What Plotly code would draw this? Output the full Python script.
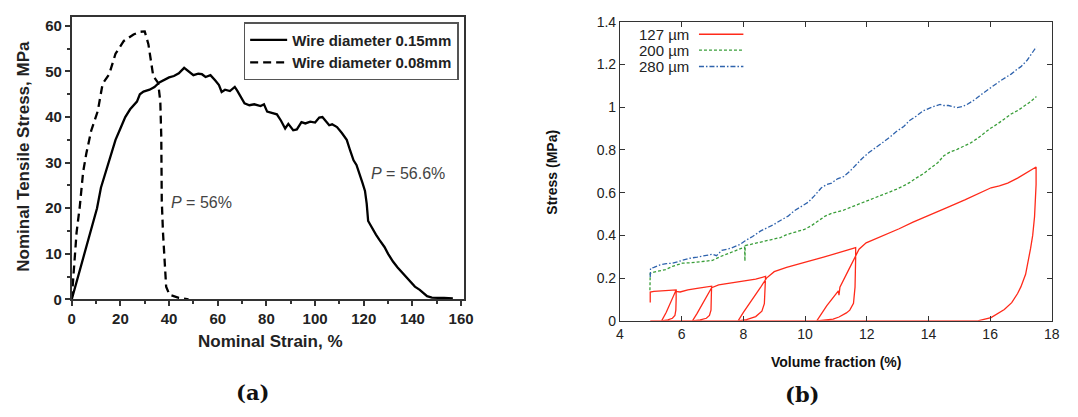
import plotly.graph_objects as go

W, H = 1078, 417
OFF = 8  # page body margin of the browser


def px(x):
    return (x - OFF) / W


def py(y):
    return 1 - (y - OFF) / H


# ---------------- (a) tensile curves ----------------
strain_015 = [0, 2, 5.4, 8, 10.4, 12, 13.4, 15, 16.5, 18, 20, 22, 24, 26.8, 28, 29.5, 32, 34, 36, 38,
              40, 42, 44, 46.2, 48, 50, 52, 53.5, 55, 57, 59, 60.5, 61.6, 63, 65, 67, 68, 69.5, 71, 73,
              75, 77.6, 79, 80.3, 82, 84.3, 86, 87.7, 89, 91, 92.5, 94.4, 96, 98, 100, 101.7, 103, 104.5,
              105.8, 107, 109, 111, 113, 114.5, 115.8, 117, 118.5, 119.5, 120.5, 121.2, 121.8, 122.5,
              123.8, 125, 126.5, 128.5, 130, 132, 133.9, 135.5, 137, 139, 141, 143, 144.5, 146, 148,
              150, 153, 156.6]
stress_015 = [0, 3.8, 10, 15.2, 20, 24.5, 27, 30, 32.5, 35, 37.5, 40, 41.7, 43.4, 45, 45.6, 46, 46.6, 47.6, 48.2,
              48.7, 49, 49.6, 50.8, 50, 49.2, 49.5, 49.4, 48.8, 49.2, 48, 47, 45.5, 46, 45.7, 46.6, 45.8, 44.5, 43, 42.6,
              42.8, 42.4, 42.8, 41.2, 41, 40.6, 39.2, 37.5, 38.5, 37.1, 37.3, 38.9, 38.6, 39, 38.8, 39.9, 40, 39,
              38.2, 38.4, 37.8, 36.5, 35, 32.5, 30.5, 29.5, 27.3, 25.5, 23.8, 21, 17.2, 16.5,
              15.4, 14.2, 13, 11.5, 10, 8.3, 7, 6, 5.3, 3.9, 2.8, 2.1, 1.5, 0.7, 0.4,
              0.4, 0.3, 0.2]

strain_008 = [0, 0.7, 2, 3.3, 4.7, 6, 8, 10.7, 12.7, 15.4, 18, 21.4, 25.4, 28, 30, 31.5, 33.5, 35.5,
              36.4, 36.8, 37, 37.5, 38.2, 38.8, 40.2, 44, 48]
stress_008 = [0, 5.6, 14.7, 20.3, 28, 32, 37, 41.3, 47.3, 49.4, 53.9, 56.7, 58.1, 58.7, 58.8, 56, 49, 47.5,
              43.4, 35.7, 21.7, 14.7, 7.7, 2.8, 1, 0.35, 0]

names_a = ["Wire diameter 0.15mm", "Wire diameter 0.08mm"]
xticks_a = [0, 20, 40, 60, 80, 100, 120, 140, 160]
yticks_a = [0, 10, 20, 30, 40, 50, 60]

# ---------------- (b) stress vs volume fraction ----------------
vf_280 = [4.98, 4.99, 5.1, 5.3, 5.5, 5.7, 5.9, 6.1, 6.25, 6.5, 6.8, 7.0, 7.13, 7.3, 7.6, 7.9, 8.06, 8.3, 8.55,
          8.78, 9.0, 9.2, 9.45, 9.65, 9.9, 10.1, 10.3, 10.53, 10.7, 10.86, 11.05, 11.25, 11.45, 11.63, 11.85,
          12.07, 12.3, 12.5, 12.75, 12.95, 13.2, 13.39, 13.6, 13.83, 14.1, 14.38, 14.5, 14.65, 14.93, 15.1,
          15.25, 15.5, 15.7, 15.9, 16.13, 16.4, 16.68, 16.85, 17.0, 17.2, 17.35, 17.5]
s_280 = [0.205, 0.245, 0.25, 0.262, 0.268, 0.27, 0.278, 0.285, 0.293, 0.298, 0.305, 0.312, 0.305, 0.33, 0.34,
         0.358, 0.375, 0.395, 0.42, 0.435, 0.452, 0.47, 0.49, 0.515, 0.535, 0.555, 0.585, 0.623, 0.638, 0.645,
         0.665, 0.675, 0.7, 0.728, 0.76, 0.788, 0.81, 0.833, 0.86, 0.885, 0.91, 0.938, 0.958, 0.983, 1.0,
         1.013, 1.008, 1.008, 0.998, 1.003, 1.013, 1.035, 1.058, 1.08, 1.103, 1.13, 1.155, 1.175, 1.19, 1.22,
         1.25, 1.283]

vf_200 = [4.97, 4.98, 5.1, 5.3, 5.48, 5.7, 6.03, 6.3, 6.6, 6.8, 7.0, 7.24, 7.5, 7.9, 8.04, 8.05, 8.06, 8.3,
          8.56, 8.8, 9.0, 9.2, 9.43, 9.7, 9.98, 10.2, 10.42, 10.65, 10.86, 11.05, 11.25, 11.45, 11.63, 11.9,
          12.18, 12.45, 12.73, 12.95, 13.17, 13.4, 13.6, 13.85, 14.05, 14.3, 14.5, 14.7, 14.93, 15.15, 15.37,
          15.6, 15.8, 16.0, 16.25, 16.45, 16.68, 16.9, 17.12, 17.3, 17.5]
s_200 = [0.143, 0.222, 0.228, 0.235, 0.24, 0.255, 0.27, 0.272, 0.276, 0.278, 0.283, 0.3, 0.315, 0.338, 0.345,
         0.28, 0.352, 0.36, 0.368, 0.375, 0.383, 0.39, 0.405, 0.415, 0.428, 0.445, 0.465, 0.49, 0.503, 0.51,
         0.518, 0.53, 0.54, 0.555, 0.57, 0.585, 0.6, 0.615, 0.63, 0.648, 0.668, 0.69, 0.713, 0.74, 0.773,
         0.79, 0.803, 0.818, 0.833, 0.855, 0.878, 0.9, 0.923, 0.945, 0.968, 0.985, 1.005, 1.025, 1.05]

vf_127 = [4.98, 4.98, 5.1, 5.3, 5.5, 5.7, 5.82,
          5.82, 5.81, 5.78, 5.7, 5.55, 5.4,
          5.35, 5.5, 5.65, 5.8,
          5.95, 6.2, 6.5, 6.8, 6.97,
          6.96, 6.95, 6.9, 6.8, 6.6, 6.42,
          6.35, 6.5, 6.7, 6.97,
          7.2, 7.5, 7.8, 8.1, 8.4, 8.72,
          8.71, 8.68, 8.6, 8.4, 8.1, 7.88,
          7.83, 8.0, 8.3, 8.55, 8.75,
          9.0, 9.4, 9.74, 10.1, 10.6, 11.0, 11.3, 11.64,
          11.64, 11.62, 11.57, 11.45, 11.34, 11.1, 10.91, 10.6, 10.42,
          10.38, 10.7, 11.0, 11.08, 11.1, 11.13, 11.4, 11.66,
          11.75, 11.98, 12.4, 13.05, 13.5, 14.11, 14.6, 15.18, 15.6, 16.03, 16.3, 16.57, 16.89, 17.2, 17.49,
          17.49, 17.44, 17.38, 17.31, 17.15, 17.0, 16.89, 16.7, 16.46, 16.03, 15.6,
          4.98]
s_127 = [0.086, 0.135, 0.138, 0.14, 0.142, 0.145, 0.145,
         0.1, 0.05, 0.025, 0.012, 0.004, 0.0,
         0.0, 0.04, 0.085, 0.138,
         0.135, 0.145, 0.152, 0.158, 0.162,
         0.11, 0.05, 0.025, 0.012, 0.004, 0.0,
         0.0, 0.035, 0.085, 0.155,
         0.168, 0.175, 0.183, 0.188, 0.195, 0.208,
         0.15, 0.08, 0.045, 0.02, 0.006, 0.0,
         0.0, 0.04, 0.1, 0.155, 0.2,
         0.23, 0.25, 0.262, 0.278, 0.298, 0.315, 0.328, 0.343,
         0.293, 0.158, 0.082, 0.05, 0.037, 0.018, 0.008, 0.003, 0.0,
         0.0, 0.07, 0.13, 0.14, 0.12, 0.158, 0.235, 0.31,
         0.335, 0.365, 0.39, 0.431, 0.462, 0.498, 0.53, 0.566, 0.595, 0.623, 0.632, 0.645, 0.668, 0.695, 0.72,
         0.638, 0.488, 0.4, 0.338, 0.218, 0.16, 0.128, 0.085, 0.053, 0.015, 0.0,
         0.0]

names_b = ["127 µm", "200 µm", "280 µm"]
colors_b = ["#ff2a1a", "#3a9e3a", "#2f63ad"]
dashes_b = ["solid", "3px,2px", "5px,2px,1.5px,2px"]
xticks_b = [4, 6, 8, 10, 12, 14, 16, 18]
yticks_b = [0, 0.2, 0.4, 0.6, 0.8, 1.0, 1.2, 1.4]
yticklabels_b = ["0", "0.2", "0.4", "0.6", "0.8", "1", "1.2", "1.4"]

SANS = "Liberation Sans, Arial, sans-serif"

# ---------------- figure ----------------
fig = go.Figure()

fig.add_trace(go.Scatter(x=strain_015, y=stress_015, mode="lines", name=names_a[0],
                         line=dict(color="black", width=2.3), xaxis="x", yaxis="y"))
fig.add_trace(go.Scatter(x=strain_008, y=stress_008, mode="lines", name=names_a[1],
                         line=dict(color="black", width=2.3, dash="8px,5px"), xaxis="x", yaxis="y"))

for xs, ys, nm, c, d in zip([vf_127, vf_200, vf_280], [s_127, s_200, s_280], names_b, colors_b, dashes_b):
    fig.add_trace(go.Scatter(x=xs, y=ys, mode="lines", name=nm, showlegend=False,
                             line=dict(color=c, width=1.3, dash=d), xaxis="x2", yaxis="y2"))

bold_a = dict(family=SANS, size=15, color="#222", weight="bold")
reg_b = dict(family=SANS, size=14, color="#222")

fig.update_layout(
    width=W, height=H,
    margin=dict(l=0, r=0, t=0, b=0),
    paper_bgcolor="white", plot_bgcolor="white",
    xaxis=dict(domain=[px(68.5), px(465.5)], range=[0, 161], anchor="y",
               tickvals=xticks_a, ticks="outside", ticklen=5, tickwidth=1.5, tickcolor="#333",
               minor=dict(dtick=10, tick0=0, ticks="outside", ticklen=3, tickwidth=1.5, tickcolor="#333"),
               showline=True, linecolor="#333", linewidth=1.6, mirror=True,
               showgrid=False, zeroline=False, tickfont=bold_a),
    yaxis=dict(domain=[py(302.7), py(9)], range=[0, 61.96], anchor="x",
               tickvals=yticks_a, ticks="outside", ticklen=5, tickwidth=1.5, tickcolor="#333",
               minor=dict(dtick=5, tick0=0, ticks="outside", ticklen=3, tickwidth=1.5, tickcolor="#333"),
               showline=True, linecolor="#333", linewidth=1.6, mirror=True,
               showgrid=False, zeroline=False, tickfont=bold_a, ticklabeloverflow="allow"),
    xaxis2=dict(domain=[px(624), px(1061.5)], range=[4, 18], anchor="y2", tickvals=xticks_b,
                ticks="inside", ticklen=5, tickwidth=1, tickcolor="#333",
                showline=True, linecolor="#333", linewidth=1.2, mirror="ticks",
                showgrid=False, zeroline=False, tickfont=reg_b, ticklabeloverflow="allow"),
    yaxis2=dict(domain=[py(325), py(14)], range=[0, 1.4], anchor="x2",
                tickvals=yticks_b, ticktext=yticklabels_b,
                ticks="inside", ticklen=5, tickwidth=1, tickcolor="#333",
                showline=True, linecolor="#333", linewidth=1.2, mirror="ticks",
                showgrid=False, zeroline=False, tickfont=reg_b, ticklabeloverflow="allow"),
    legend=dict(x=px(242.7), y=py(14.3), xanchor="left", yanchor="top",
                bgcolor="white", bordercolor="#555", borderwidth=1.5,
                font=dict(family=SANS, size=15, color="#222", weight="bold"),
                tracegroupgap=0, itemwidth=37),
    showlegend=True,
)


def paper_text(text, x, y, size, color="#222", weight="normal", angle=0, xanchor="center", family=SANS):
    return dict(text=text, x=px(x), y=py(y), xref="paper", yref="paper", showarrow=False,
                xanchor=xanchor, yanchor="middle", textangle=angle,
                font=dict(family=family, size=size, color=color, weight=weight))


ann = [
    paper_text("Nominal Strain, %", 270, 347, 17, weight="bold"),
    paper_text("Nominal Tensile Stress, MPa", 19.5, 154, 17, weight="bold", angle=-90),
    paper_text("Volume fraction (%)", 843, 368, 14, color="#111", weight="bold"),
    paper_text("Stress (MPa)", 555, 170, 14, color="#111", weight="bold", angle=-90),
    paper_text("<b>(a)</b>", 251.5, 400, 21, color="#111", family="DejaVu Serif, serif"),
    paper_text("<b>(b)</b>", 809, 402, 21, color="#111", family="DejaVu Serif, serif"),
    dict(text="<i>P</i> = 56%", x=53.5, y=21.3, xref="x", yref="y", showarrow=False,
         xanchor="center", yanchor="middle", font=dict(family=SANS, size=16, color="#444")),
    dict(text="<i>P</i> = 56.6%", x=138, y=27.6, xref="x", yref="y", showarrow=False,
         xanchor="center", yanchor="middle", font=dict(family=SANS, size=16, color="#444")),
]

# manual legend for (b): text on the left, sample line on the right
rows_y = [27, 43.5, 60.5]
shapes = []
for nm, c, d, ry in zip(names_b, colors_b, dashes_b, rows_y):
    ann.append(paper_text(nm, 696, ry, 15, xanchor="right"))
    shapes.append(dict(type="line", xref="paper", yref="paper", x0=px(704), x1=px(749),
                       y0=py(ry), y1=py(ry), line=dict(color=c, width=1.3, dash=d)))

fig.update_layout(annotations=ann, shapes=shapes)

fig.write_html("out.html")
